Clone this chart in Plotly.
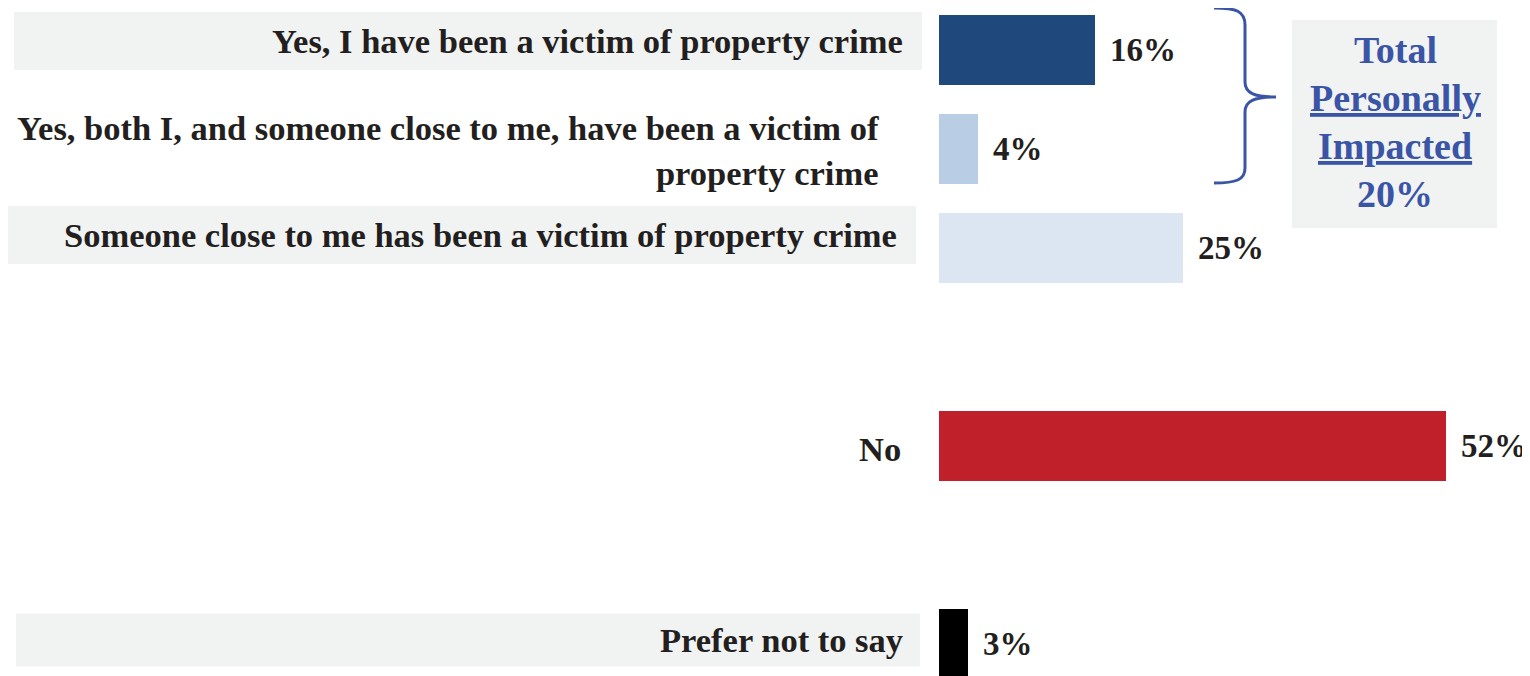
import plotly.graph_objects as go

# ---- data ----
categories = [
    "Yes, I have been a victim of property crime",
    "Yes, both I, and someone close to me, have been a victim of<br>property crime",
    "Someone close to me has been a victim of property crime",
    "No",
    "Prefer not to say",
]
values = [16, 4, 25, 52, 3]
value_labels = ["16%", "4%", "25%", "52%", "3%"]
row_positions = [0, 1, 2, 4, 6]
total_lines = ["Total", "<u>Personally</u>", "<u>Impacted</u>", "20%"]

# ---- style ----
bar_colors = ["#1F497D", "#B9CDE5", "#DCE6F2", "#C0202A", "#000000"]
label_has_box = [True, False, True, False, True]
OFF = 8                      # page body margin in the browser
W, H = 1530 - OFF, 676 - OFF
X0PX = 939 - OFF             # pixel of value 0
PXPER = 9.75                 # pixels per percentage point
ROW0PX = 50 - OFF            # pixel centre of first row
ROWPX = 99                   # pixels per row
FONT = "Liberation Serif"
TXT = "#231F20"
BLUE = "#3A55A6"

def xd(px):
    return (px - OFF - X0PX) / PXPER

def yd(py):
    return (py - OFF - ROW0PX) / ROWPX

fig = go.Figure()
fig.add_trace(go.Bar(
    y=row_positions, x=values, orientation="h",
    marker=dict(color=bar_colors, line=dict(width=0)),
    width=0.71, hoverinfo="skip", showlegend=False,
))

# label background boxes (row, x0px, x1px, y-offset px, height px) in reference pixels
box_geom = {0: (14, 922, -9, 58), 2: (8, 916, -13, 58), 4: (16, 920, -4, 53)}
label_yshift = [9, -1, 13, -3, 4]
label_xshift = [-34, -58, -40, -36, -34]

for i, (cat, pos, val, vl) in enumerate(zip(categories, row_positions, values, value_labels)):
    if label_has_box[i]:
        x0, x1, off, h = box_geom[i]
        fig.add_shape(type="rect", xref="x", yref="y",
                      x0=xd(x0), x1=xd(x1),
                      y0=pos + (off - h / 2) / ROWPX, y1=pos + (off + h / 2) / ROWPX,
                      fillcolor="#F1F2F2", line=dict(width=0), layer="below")
    fig.add_annotation(x=0, y=pos, text="<b>" + cat + "</b>", showarrow=False,
                       xanchor="right", yanchor="middle", align="right",
                       xshift=label_xshift[i], yshift=label_yshift[i],
                       font=dict(family=FONT, size=34.5, color=TXT))
    fig.add_annotation(x=val, y=pos, text="<b>" + vl + "</b>", showarrow=False,
                       xanchor="left", yanchor="middle", xshift=13, yshift=0,
                       font=dict(family=FONT, size=33, color=TXT))

def PX(x):
    return (x - OFF) / W

def PY(y):
    return 1 - (y - OFF) / H

# Total box
fig.add_shape(type="rect", xref="paper", yref="paper",
              x0=PX(1292), x1=PX(1497), y0=PY(228), y1=PY(20),
              fillcolor="#F1F2F2", line=dict(width=0), layer="below")
for k, t in enumerate(total_lines):
    fig.add_annotation(xref="paper", yref="paper", x=PX(1395), y=PY(50 + 48 * k),
                       text="<b>" + t + "</b>", showarrow=False,
                       xanchor="center", yanchor="middle",
                       font=dict(family=FONT, size=38, color=BLUE))

# brace
def P(x, y):
    return f"{PX(x):.5f},{PY(y):.5f}"

brace = (f"M{P(1214, 8)} C{P(1236, 8)} {P(1245, 11)} {P(1245, 25)} "
         f"L{P(1245, 82)} C{P(1245, 93)} {P(1254, 97)} {P(1276, 97)} "
         f"C{P(1254, 97)} {P(1245, 101)} {P(1245, 112)} "
         f"L{P(1245, 168)} C{P(1245, 180)} {P(1236, 183)} {P(1214, 183)}")
fig.add_shape(type="path", xref="paper", yref="paper", path=brace,
              line=dict(color=BLUE, width=3))

fig.update_layout(
    width=W, height=H, margin=dict(l=0, r=0, t=0, b=0),
    plot_bgcolor="white", paper_bgcolor="white",
    xaxis=dict(range=[xd(OFF), xd(OFF + W)], visible=False, fixedrange=True),
    yaxis=dict(range=[yd(OFF + H), yd(OFF)], visible=False, fixedrange=True),
    bargap=0,
)
fig.write_html("out.html")
